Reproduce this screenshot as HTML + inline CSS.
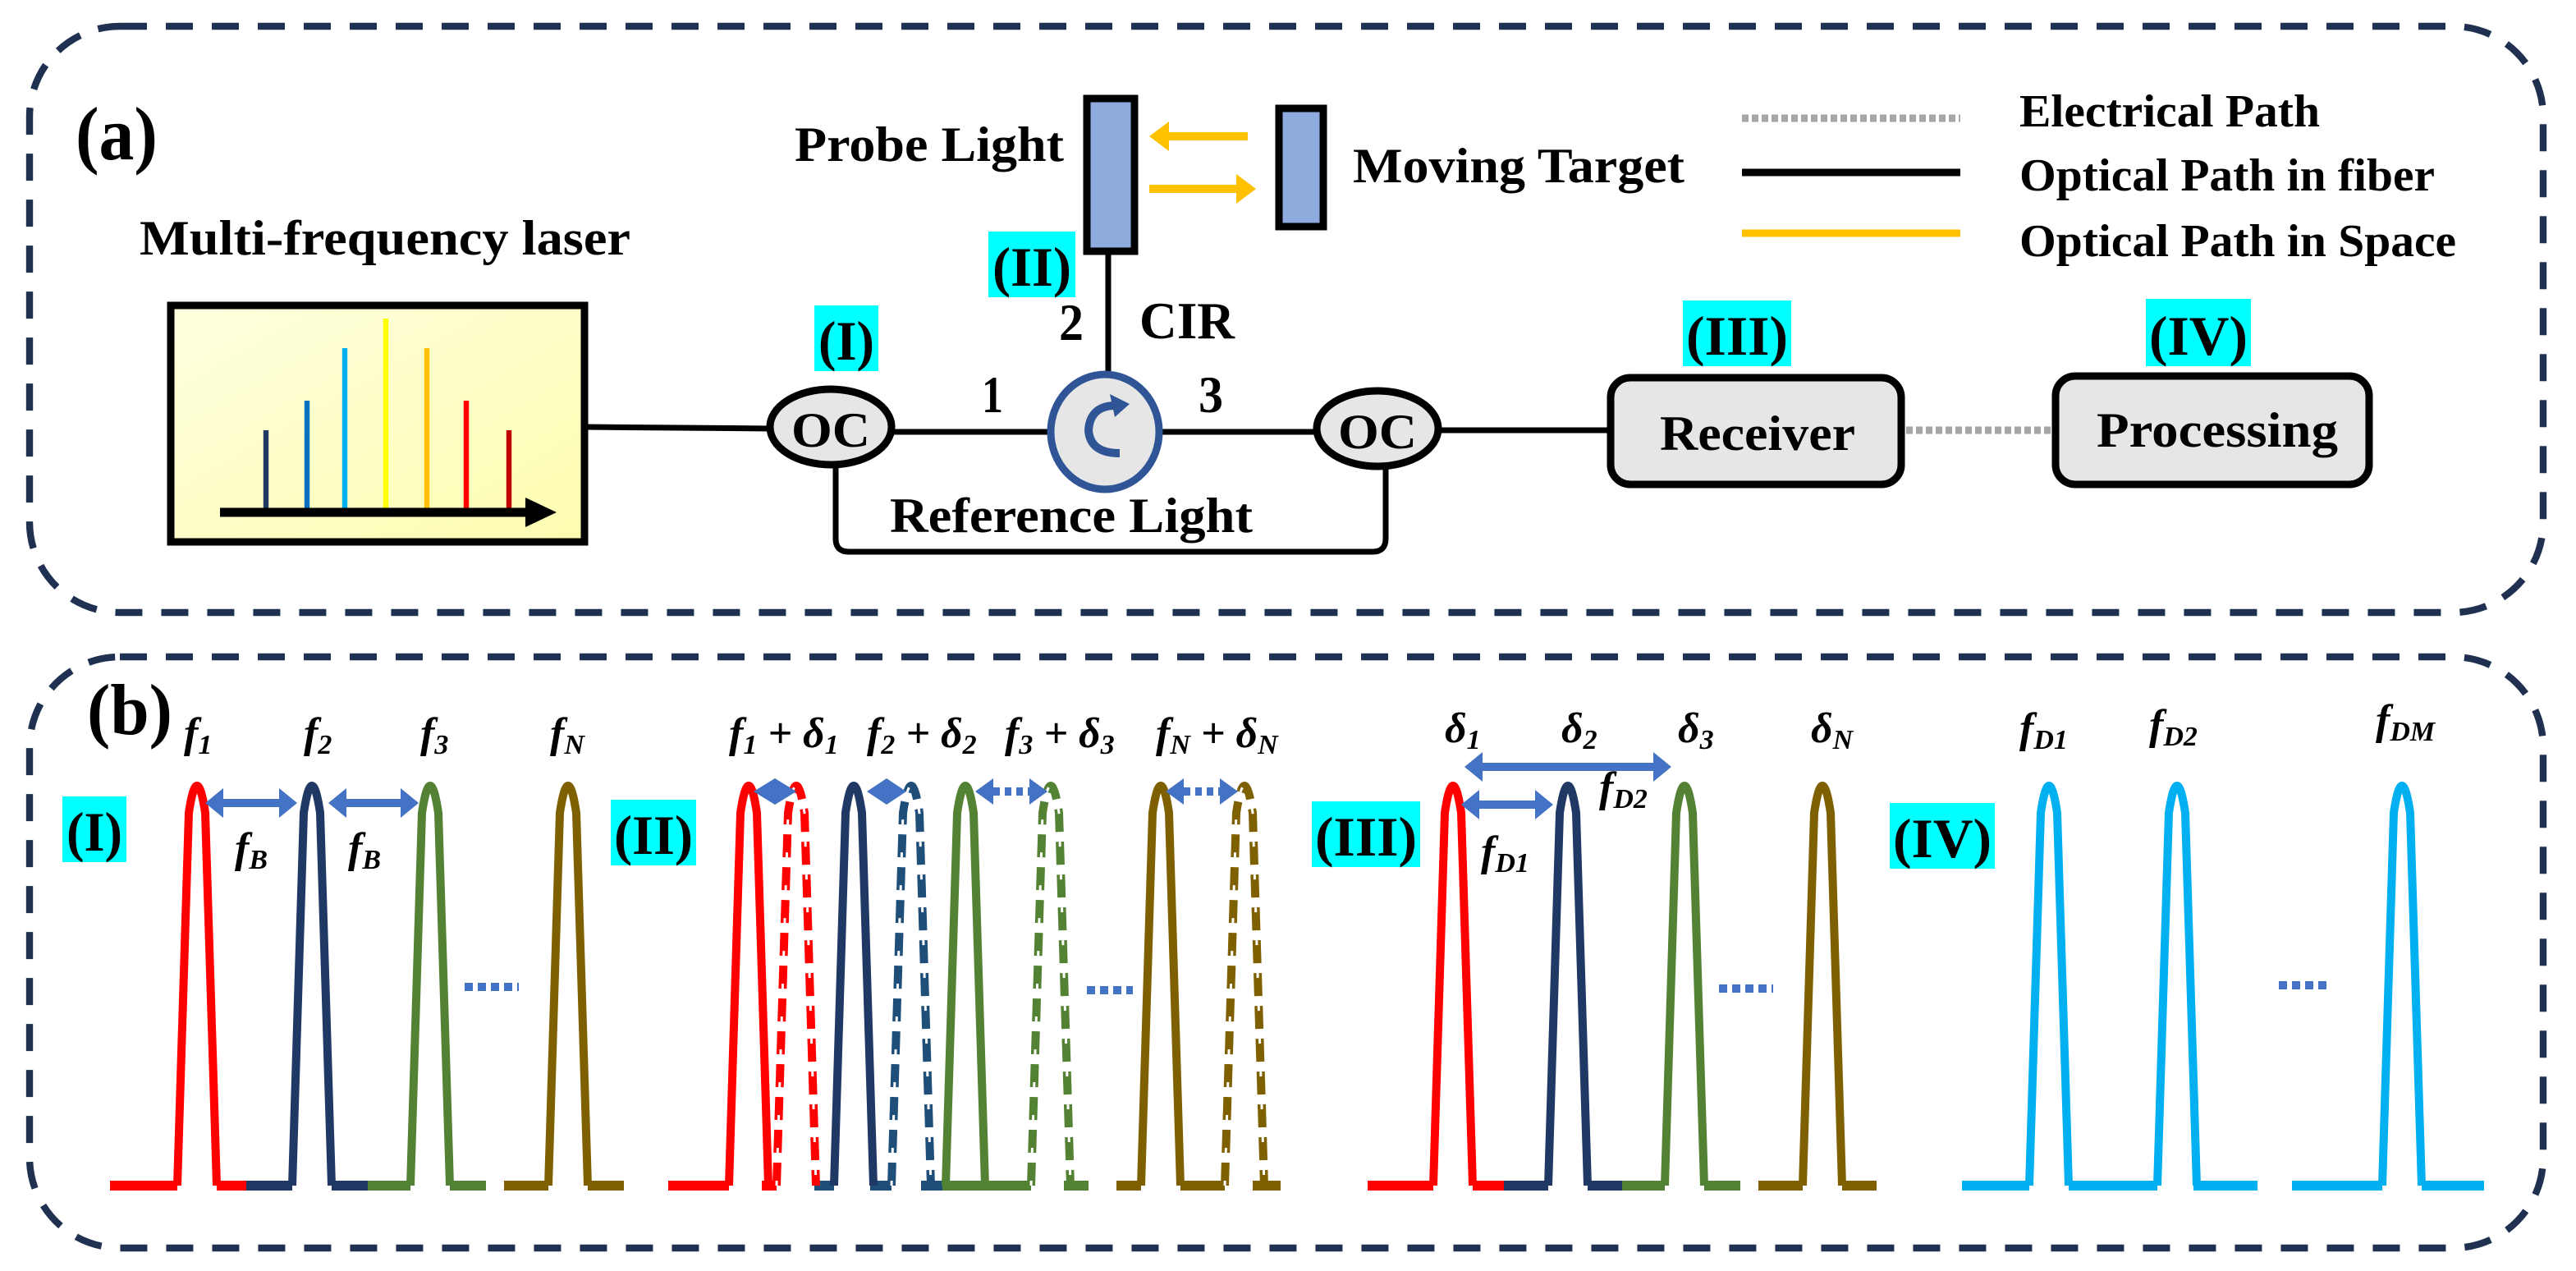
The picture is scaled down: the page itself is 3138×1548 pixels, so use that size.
<!DOCTYPE html>
<html><head><meta charset="utf-8"><style>
html,body{margin:0;padding:0;background:#fff;}
svg{display:block;}
text{font-family:"Liberation Serif",serif;font-weight:bold;fill:#000;}
.m{font-style:italic;}
</style></head><body>
<svg width="3138" height="1548" viewBox="0 0 1569 774" xmlns="http://www.w3.org/2000/svg">
<defs>
<path id="pk" d="M-12,722 L-5,495 Q0,462 5,495 L12,722" fill="none"/>
<linearGradient id="ly" x1="0" y1="0" x2="1" y2="1"><stop offset="0" stop-color="#ffffe0"/><stop offset="1" stop-color="#fdfdb0"/></linearGradient>
</defs>
<rect width="1569" height="774" fill="#fff"/>
<!-- panel borders -->
<rect x="18" y="16" width="1531" height="357" rx="55" fill="none" stroke="#1f3050" stroke-width="4.2" stroke-dasharray="16.5 11.5"/>
<rect x="18" y="400" width="1531" height="360" rx="55" fill="none" stroke="#1f3050" stroke-width="4.2" stroke-dasharray="16.5 11.5"/>

<!-- ===== panel (a) ===== -->
<text x="46" y="97" font-size="46" textLength="50" lengthAdjust="spacingAndGlyphs">(a)</text>
<text x="85" y="155" font-size="30" textLength="299" lengthAdjust="spacingAndGlyphs">Multi-frequency laser</text>
<rect x="104" y="186" width="252" height="144" fill="url(#ly)" stroke="#000" stroke-width="4.5"/>
<g stroke-width="3.2">
<line x1="162" y1="262" x2="162" y2="310" stroke="#1f3864"/>
<line x1="187" y1="244" x2="187" y2="310" stroke="#0070c0"/>
<line x1="210" y1="212" x2="210" y2="310" stroke="#00b0f0"/>
<line x1="235" y1="194" x2="235" y2="310" stroke="#ffff00"/>
<line x1="260" y1="212" x2="260" y2="310" stroke="#ffc000"/>
<line x1="284" y1="244" x2="284" y2="310" stroke="#ff0000"/>
<line x1="310" y1="262" x2="310" y2="310" stroke="#c00000"/>
</g>
<line x1="134" y1="312" x2="325" y2="312" stroke="#000" stroke-width="5.5"/>
<polygon points="320,303 339,312 320,321" fill="#000"/>

<line x1="356" y1="260" x2="470" y2="261" stroke="#000" stroke-width="3.5"/>
<line x1="544" y1="263" x2="640" y2="263" stroke="#000" stroke-width="3.5"/>
<line x1="708" y1="263" x2="802" y2="263" stroke="#000" stroke-width="3.5"/>
<line x1="876" y1="262" x2="981" y2="262" stroke="#000" stroke-width="3.5"/>
<path d="M509,284 V328 Q509,336 517,336 H836 Q844,336 844,328 V284" fill="none" stroke="#000" stroke-width="3.5"/>
<line x1="675" y1="154" x2="675" y2="227" stroke="#000" stroke-width="3.5"/>

<ellipse cx="506" cy="260" rx="37" ry="23" fill="#e6e6e6" stroke="#000" stroke-width="4.5"/>
<text x="506" y="272" font-size="30" text-anchor="middle" textLength="48" lengthAdjust="spacingAndGlyphs">OC</text>
<ellipse cx="839" cy="261" rx="37" ry="23" fill="#e6e6e6" stroke="#000" stroke-width="4.5"/>
<text x="839" y="273" font-size="30" text-anchor="middle" textLength="48" lengthAdjust="spacingAndGlyphs">OC</text>

<ellipse cx="673" cy="263" rx="33" ry="35" fill="#e6e6e6" stroke="#2f5597" stroke-width="4.5"/>
<path d="M682,247 Q664,246 663,262 Q664,276 682,276" fill="none" stroke="#2f5597" stroke-width="5"/>
<polygon points="676,240 688,246 679,254" fill="#2f5597"/>

<rect x="496" y="186" width="39" height="40" fill="#00ffff"/>
<text x="515.5" y="219" font-size="34" text-anchor="middle" textLength="34" lengthAdjust="spacingAndGlyphs">(I)</text>
<rect x="602" y="141" width="53" height="40" fill="#00ffff"/>
<text x="628.5" y="174" font-size="34" text-anchor="middle" textLength="48" lengthAdjust="spacingAndGlyphs">(II)</text>

<text x="645" y="207" font-size="32" textLength="15" lengthAdjust="spacingAndGlyphs">2</text>
<text x="694" y="206" font-size="32" textLength="58" lengthAdjust="spacingAndGlyphs">CIR</text>
<text x="598" y="251" font-size="32" textLength="13" lengthAdjust="spacingAndGlyphs">1</text>
<text x="730" y="251" font-size="32" textLength="15" lengthAdjust="spacingAndGlyphs">3</text>
<text x="542" y="324" font-size="30" textLength="221" lengthAdjust="spacingAndGlyphs">Reference Light</text>

<rect x="662" y="60" width="29" height="93" fill="#8faadc" stroke="#000" stroke-width="4.5"/>
<text x="484" y="98" font-size="30" textLength="164" lengthAdjust="spacingAndGlyphs">Probe Light</text>
<rect x="779" y="66" width="27" height="72" fill="#8faadc" stroke="#000" stroke-width="4.5"/>
<text x="824" y="111" font-size="30" textLength="202" lengthAdjust="spacingAndGlyphs">Moving Target</text>

<line x1="710" y1="83" x2="760" y2="83" stroke="#ffc000" stroke-width="5"/>
<polygon points="700,83 712,74 712,92" fill="#ffc000"/>
<line x1="700" y1="115" x2="754" y2="115" stroke="#ffc000" stroke-width="5"/>
<polygon points="765,115 753,106 753,124" fill="#ffc000"/>

<!-- legend -->
<line x1="1061" y1="72" x2="1194" y2="72" stroke="#a6a6a6" stroke-width="4.5" stroke-dasharray="4 2"/>
<line x1="1061" y1="105" x2="1194" y2="105" stroke="#000" stroke-width="4.5"/>
<line x1="1061" y1="142" x2="1194" y2="142" stroke="#ffc000" stroke-width="4.5"/>
<text x="1230" y="77" font-size="28" textLength="183" lengthAdjust="spacingAndGlyphs">Electrical Path</text>
<text x="1230" y="116" font-size="28" textLength="253" lengthAdjust="spacingAndGlyphs">Optical Path in fiber</text>
<text x="1230" y="156" font-size="28" textLength="266" lengthAdjust="spacingAndGlyphs">Optical Path in Space</text>

<rect x="1025" y="183" width="66" height="40" fill="#00ffff"/>
<text x="1058" y="216" font-size="34" text-anchor="middle" textLength="62" lengthAdjust="spacingAndGlyphs">(III)</text>
<rect x="1307" y="182" width="64" height="41" fill="#00ffff"/>
<text x="1339" y="216" font-size="34" text-anchor="middle" textLength="60" lengthAdjust="spacingAndGlyphs">(IV)</text>

<rect x="981" y="230" width="177" height="65" rx="12" fill="#e6e6e6" stroke="#000" stroke-width="4.5"/>
<text x="1011" y="274" font-size="30" textLength="119" lengthAdjust="spacingAndGlyphs">Receiver</text>
<line x1="1161" y1="262" x2="1251" y2="262" stroke="#a6a6a6" stroke-width="4.5" stroke-dasharray="4 2"/>
<rect x="1252" y="229" width="191" height="66" rx="12" fill="#e6e6e6" stroke="#000" stroke-width="4.5"/>
<text x="1277" y="272" font-size="30" textLength="147" lengthAdjust="spacingAndGlyphs">Processing</text>

<!-- ===== panel (b) ===== -->
<text x="53" y="447" font-size="44" textLength="52" lengthAdjust="spacingAndGlyphs">(b)</text>

<g font-size="26" class="m">
<text class="m" x="112" y="455">f<tspan font-size="17" dy="4">1</tspan></text>
<text class="m" x="185" y="455">f<tspan font-size="17" dy="4">2</tspan></text>
<text class="m" x="256" y="455">f<tspan font-size="17" dy="4">3</tspan></text>
<text class="m" x="335" y="455">f<tspan font-size="17" dy="4">N</tspan></text>
<text class="m" x="143" y="525">f<tspan font-size="17" dy="4">B</tspan></text>
<text class="m" x="212" y="525">f<tspan font-size="17" dy="4">B</tspan></text>
<text class="m" x="444" y="455">f<tspan font-size="17" dy="4">1</tspan><tspan dy="-4"> + δ</tspan><tspan font-size="17" dy="4">1</tspan></text>
<text class="m" x="528" y="455">f<tspan font-size="17" dy="4">2</tspan><tspan dy="-4"> + δ</tspan><tspan font-size="17" dy="4">2</tspan></text>
<text class="m" x="612" y="455">f<tspan font-size="17" dy="4">3</tspan><tspan dy="-4"> + δ</tspan><tspan font-size="17" dy="4">3</tspan></text>
<text class="m" x="704" y="455">f<tspan font-size="17" dy="4">N</tspan><tspan dy="-4"> + δ</tspan><tspan font-size="17" dy="4">N</tspan></text>
<text class="m" x="880" y="452">δ<tspan font-size="17" dy="4">1</tspan></text>
<text class="m" x="951" y="452">δ<tspan font-size="17" dy="4">2</tspan></text>
<text class="m" x="1022" y="452">δ<tspan font-size="17" dy="4">3</tspan></text>
<text class="m" x="1103" y="452">δ<tspan font-size="17" dy="4">N</tspan></text>
<text class="m" x="902" y="527">f<tspan font-size="17" dy="4">D1</tspan></text>
<text class="m" x="974" y="488">f<tspan font-size="17" dy="4">D2</tspan></text>
<text class="m" x="1230" y="452">f<tspan font-size="17" dy="4">D1</tspan></text>
<text class="m" x="1309" y="450">f<tspan font-size="17" dy="4">D2</tspan></text>
<text class="m" x="1447" y="447">f<tspan font-size="17" dy="4">DM</tspan></text>
</g>

<!-- cyan labels -->
<rect x="38" y="485" width="39" height="40" fill="#00ffff"/>
<text x="57.5" y="518" font-size="34" text-anchor="middle" textLength="34" lengthAdjust="spacingAndGlyphs">(I)</text>
<rect x="372" y="487" width="52" height="40" fill="#00ffff"/>
<text x="398" y="520" font-size="34" text-anchor="middle" textLength="48" lengthAdjust="spacingAndGlyphs">(II)</text>
<rect x="799" y="488" width="66" height="40" fill="#00ffff"/>
<text x="832" y="521" font-size="34" text-anchor="middle" textLength="62" lengthAdjust="spacingAndGlyphs">(III)</text>
<rect x="1151" y="489" width="64" height="40" fill="#00ffff"/>
<text x="1183" y="522" font-size="34" text-anchor="middle" textLength="60" lengthAdjust="spacingAndGlyphs">(IV)</text>

<!-- baselines -->
<g stroke-width="6">
<line x1="67" y1="722" x2="108" y2="722" stroke="#ff0000"/><line x1="132" y1="722" x2="150" y2="722" stroke="#ff0000"/>
<line x1="150" y1="722" x2="178" y2="722" stroke="#1f3864"/><line x1="202" y1="722" x2="224" y2="722" stroke="#1f3864"/>
<line x1="224" y1="722" x2="250" y2="722" stroke="#548235"/><line x1="274" y1="722" x2="296" y2="722" stroke="#548235"/>
<line x1="307" y1="722" x2="334" y2="722" stroke="#7f6000"/><line x1="358" y1="722" x2="380" y2="722" stroke="#7f6000"/>

<line x1="407" y1="722" x2="444" y2="722" stroke="#ff0000"/><line x1="464" y1="722" x2="473" y2="722" stroke="#ff0000"/>
<line x1="496" y1="722" x2="508" y2="722" stroke="#1f4e79"/><line x1="530" y1="722" x2="543" y2="722" stroke="#1f4e79"/><line x1="561" y1="722" x2="577" y2="722" stroke="#1f4e79"/>
<line x1="574" y1="722" x2="628" y2="722" stroke="#548235"/><line x1="648" y1="722" x2="663" y2="722" stroke="#548235"/>
<line x1="680" y1="722" x2="695" y2="722" stroke="#7f6000"/><line x1="719" y1="722" x2="746" y2="722" stroke="#7f6000"/><line x1="763" y1="722" x2="780" y2="722" stroke="#7f6000"/>

<line x1="833" y1="722" x2="873" y2="722" stroke="#ff0000"/><line x1="897" y1="722" x2="918" y2="722" stroke="#ff0000"/>
<line x1="916" y1="722" x2="943" y2="722" stroke="#1f3864"/><line x1="967" y1="722" x2="995" y2="722" stroke="#1f3864"/>
<line x1="988" y1="722" x2="1014" y2="722" stroke="#548235"/><line x1="1038" y1="722" x2="1060" y2="722" stroke="#548235"/>
<line x1="1071" y1="722" x2="1098" y2="722" stroke="#7f6000"/><line x1="1122" y1="722" x2="1143" y2="722" stroke="#7f6000"/>

<g stroke="#00b0f0">
<line x1="1195" y1="722" x2="1236" y2="722"/><line x1="1260" y1="722" x2="1314" y2="722"/>
<line x1="1336" y1="722" x2="1375" y2="722"/><line x1="1396" y1="722" x2="1451" y2="722"/>
<line x1="1475" y1="722" x2="1513" y2="722"/>
</g>
</g>

<!-- peaks -->
<g stroke-width="5" stroke-linejoin="round">
<use href="#pk" x="120" stroke="#ff0000"/>
<use href="#pk" x="190" stroke="#1f3864"/>
<use href="#pk" x="262" stroke="#548235"/>
<use href="#pk" x="346" stroke="#7f6000"/>

<use href="#pk" x="456" stroke="#ff0000"/>
<use href="#pk" x="520" stroke="#1f3864"/>
<use href="#pk" x="588" stroke="#548235"/>
<use href="#pk" x="707" stroke="#7f6000"/>
<g stroke-dasharray="14 6">
<use href="#pk" x="485" stroke="#ff0000"/>
<use href="#pk" x="555" stroke="#1f4e79"/>
<use href="#pk" x="640" stroke="#548235"/>
<use href="#pk" x="758" stroke="#7f6000"/>
</g>
<g stroke-width="1.5" stroke="#fff" stroke-dasharray="3 17">
<use href="#pk" x="485"/><use href="#pk" x="555"/><use href="#pk" x="640"/><use href="#pk" x="758"/>
</g>

<use href="#pk" x="885" stroke="#ff0000"/>
<use href="#pk" x="955" stroke="#1f3864"/>
<use href="#pk" x="1026" stroke="#548235"/>
<use href="#pk" x="1110" stroke="#7f6000"/>

<use href="#pk" x="1248" stroke="#00b0f0"/>
<use href="#pk" x="1326" stroke="#00b0f0"/>
<use href="#pk" x="1463" stroke="#00b0f0"/>
</g>

<!-- dotted ellipses -->
<g stroke="#4472c4" stroke-width="5" stroke-dasharray="5 3">
<line x1="283" y1="601" x2="316" y2="601"/>
<line x1="662" y1="603" x2="690" y2="603"/>
<line x1="1047" y1="602" x2="1080" y2="602"/>
<line x1="1388" y1="600" x2="1420" y2="600"/>
</g>

<!-- arrows -->
<g fill="#4472c4">
<polygon points="125,489 136,480 136,486.5 170,486.5 170,480 181,489 170,498 170,491.5 136,491.5 136,498"/>
<polygon points="200,489 211,480 211,486.5 244,486.5 244,480 255,489 244,498 244,491.5 211,491.5 211,498"/>
<polygon points="892,467 903,458 903,464.5 1007,464.5 1007,458 1018,467 1007,476 1007,469.5 903,469.5 903,476"/>
<polygon points="890,490 901,481 901,487.5 935,487.5 935,481 946,490 935,499 935,492.5 901,492.5 901,499"/>
<polygon points="459,482 472,474 485,482 472,490"/>
<polygon points="528,482 540,474 552,482 540,490"/>
<polygon points="594,482 605,474 605,490"/><polygon points="638,482 627,474 627,490"/>
<polygon points="710,482 721,474 721,490"/><polygon points="754,482 743,474 743,490"/>
</g>
<g stroke="#4472c4" stroke-width="5" stroke-dasharray="4 3">
<line x1="605" y1="482" x2="627" y2="482"/>
<line x1="721" y1="482" x2="743" y2="482"/>
</g>
</svg>
</body></html>
